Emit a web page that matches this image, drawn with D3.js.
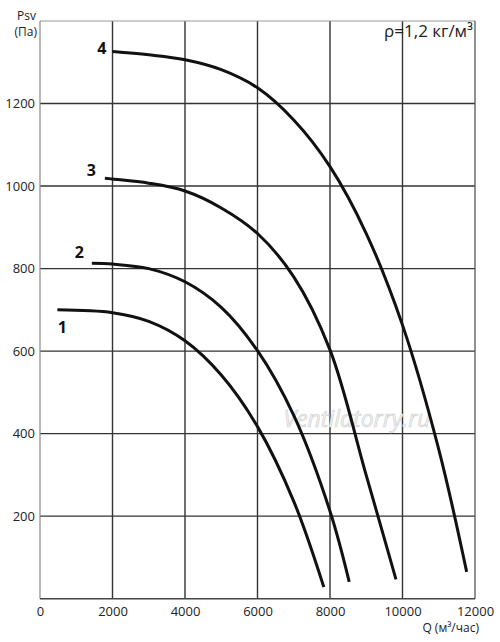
<!DOCTYPE html>
<html><head><meta charset="utf-8">
<script src="https://cdn.jsdelivr.net/npm/d3@7"></script>
<style>
html,body{margin:0;padding:0;background:#fff;}
text{font-family:"Open Sans","Noto Sans",sans-serif;}
</style></head>
<body>
<svg id="chart" width="500" height="642"></svg>
<script>
// ---- data ----
const xTicks = [0, 2000, 4000, 6000, 8000, 10000, 12000];
const yTicks = [200, 400, 600, 800, 1000, 1200];
const curveNames = ["1", "2", "3", "4"];
const curve1Q = [480, 2000, 3000, 4000, 5000, 6000, 7000, 7830];
const curve1P = [700, 693, 672, 625, 542, 417, 236, 28];
const curve2Q = [1430, 2000, 3000, 4000, 5000, 6000, 7000, 8000, 8530];
const curve2P = [813, 811, 800, 768, 706, 601, 444, 212, 41];
const curve3Q = [1790, 2000, 3000, 4000, 5000, 6000, 7000, 8000, 9000, 9820];
const curve3P = [1019, 1017, 1007, 988, 947, 885, 780, 603, 299, 47];
const curve4Q = [2000, 3000, 4000, 5000, 6000, 7000, 8000, 9000, 10000, 11000, 11770];
const curve4P = [1326, 1318, 1306, 1282, 1238, 1160, 1047, 885, 663, 362, 65];
const yTitle = ["Psv", "(Па)"];
const xTitle = "Q (м³/час)";
const densityNote = "ρ=1,2 кг/м³";
const watermark = "Ventilatorry.ru";

const series = [
  {name: curveNames[0], q: curve1Q, p: curve1P},
  {name: curveNames[1], q: curve2Q, p: curve2P},
  {name: curveNames[2], q: curve3Q, p: curve3P},
  {name: curveNames[3], q: curve4Q, p: curve4P}
];

// ---- layout ----
const svg = d3.select("#chart");
const pL = 40, pR = 475, pT = 21, pB = 598.7;
const x = d3.scaleLinear().domain([0, 12000]).range([pL, pR]);
const y = d3.scaleLinear().domain([0, 1400]).range([pB, pT]);

// grid
const g = svg.append("g");
g.selectAll(".vg").data(xTicks.slice(1, -1)).enter().append("line")
  .attr("x1", d => x(d)).attr("x2", d => x(d)).attr("y1", pT).attr("y2", pB)
  .attr("stroke", "#333").attr("stroke-width", 1.4);
g.selectAll(".hg").data(yTicks).enter().append("line")
  .attr("y1", d => y(d)).attr("y2", d => y(d)).attr("x1", pL).attr("x2", pR)
  .attr("stroke", "#333").attr("stroke-width", 1.4);
// borders
g.append("line").attr("x1", pL).attr("x2", pR).attr("y1", pT).attr("y2", pT).attr("stroke", "#999").attr("stroke-width", 1);
g.append("line").attr("x1", pL).attr("x2", pL).attr("y1", pT).attr("y2", pB).attr("stroke", "#888").attr("stroke-width", 1.2);
g.append("line").attr("x1", pR).attr("x2", pR).attr("y1", pT).attr("y2", pB).attr("stroke", "#555").attr("stroke-width", 1.3);
g.append("line").attr("x1", pL).attr("x2", pR).attr("y1", pB).attr("y2", pB).attr("stroke", "#444").attr("stroke-width", 1.5);

// axes labels
const xAxis = d3.axisBottom(x).tickValues(xTicks).tickSize(0).tickPadding(8).tickFormat(d3.format("d"));
const xa = svg.append("g").attr("transform", `translate(0,${pB})`).call(xAxis);
xa.select(".domain").remove();
xa.selectAll("text").attr("font-size", 13).attr("fill", "#222").attr("font-family", "Open Sans");

const yAxis = d3.axisLeft(y).tickValues(yTicks).tickSize(0).tickPadding(5).tickFormat(d3.format("d"));
const ya = svg.append("g").attr("transform", `translate(${pL},0)`).call(yAxis);
ya.select(".domain").remove();
ya.selectAll("text").attr("font-size", 13).attr("fill", "#222").attr("font-family", "Open Sans");

// titles
svg.append("text").attr("x", 36).attr("y", 20).attr("text-anchor", "end").attr("font-size", 12).attr("fill", "#222").text(yTitle[0]);
svg.append("text").attr("x", 37).attr("y", 36).attr("text-anchor", "end").attr("font-size", 12).attr("fill", "#222").text(yTitle[1]);
svg.append("text").attr("x", 479).attr("y", 632).attr("text-anchor", "end").attr("font-size", 12).attr("fill", "#222").text(xTitle);
svg.append("text").attr("x", 473).attr("y", 37).attr("text-anchor", "end").attr("font-size", 17).attr("fill", "#222").text(densityNote);

// watermark
svg.append("text").attr("x", 357).attr("y", 427).attr("text-anchor", "middle")
  .attr("font-size", 23).attr("font-style", "italic").attr("font-family", "DejaVu Serif")
  .attr("fill", "#f2f2f2").attr("stroke", "#cfcfcf").attr("stroke-width", 0.6)
  .text(watermark);

// curves
const line = d3.line().x(d => x(d[0])).y(d => y(d[1])).curve(d3.curveCatmullRom.alpha(0.5));
svg.selectAll(".curve").data(series).enter().append("path")
  .attr("d", s => line(s.q.map((q, i) => [q, s.p[i]])))
  .attr("fill", "none").attr("stroke", "#111").attr("stroke-width", 3).attr("stroke-linecap", "butt");

// curve labels (placed just left of each curve start)
const labelOffsets = [[5, 23], [-8, -5], [-9, -2], [-6, 2]];
svg.selectAll(".lbl").data(series).enter().append("text")
  .attr("x", (s, i) => x(s.q[0]) + labelOffsets[i][0])
  .attr("y", (s, i) => y(s.p[0]) + labelOffsets[i][1])
  .attr("text-anchor", (s, i) => i === 0 ? "middle" : "end")
  .attr("font-size", 16).attr("font-weight", "bold").attr("fill", "#111")
  .text(s => s.name);
</script>
</body></html>
